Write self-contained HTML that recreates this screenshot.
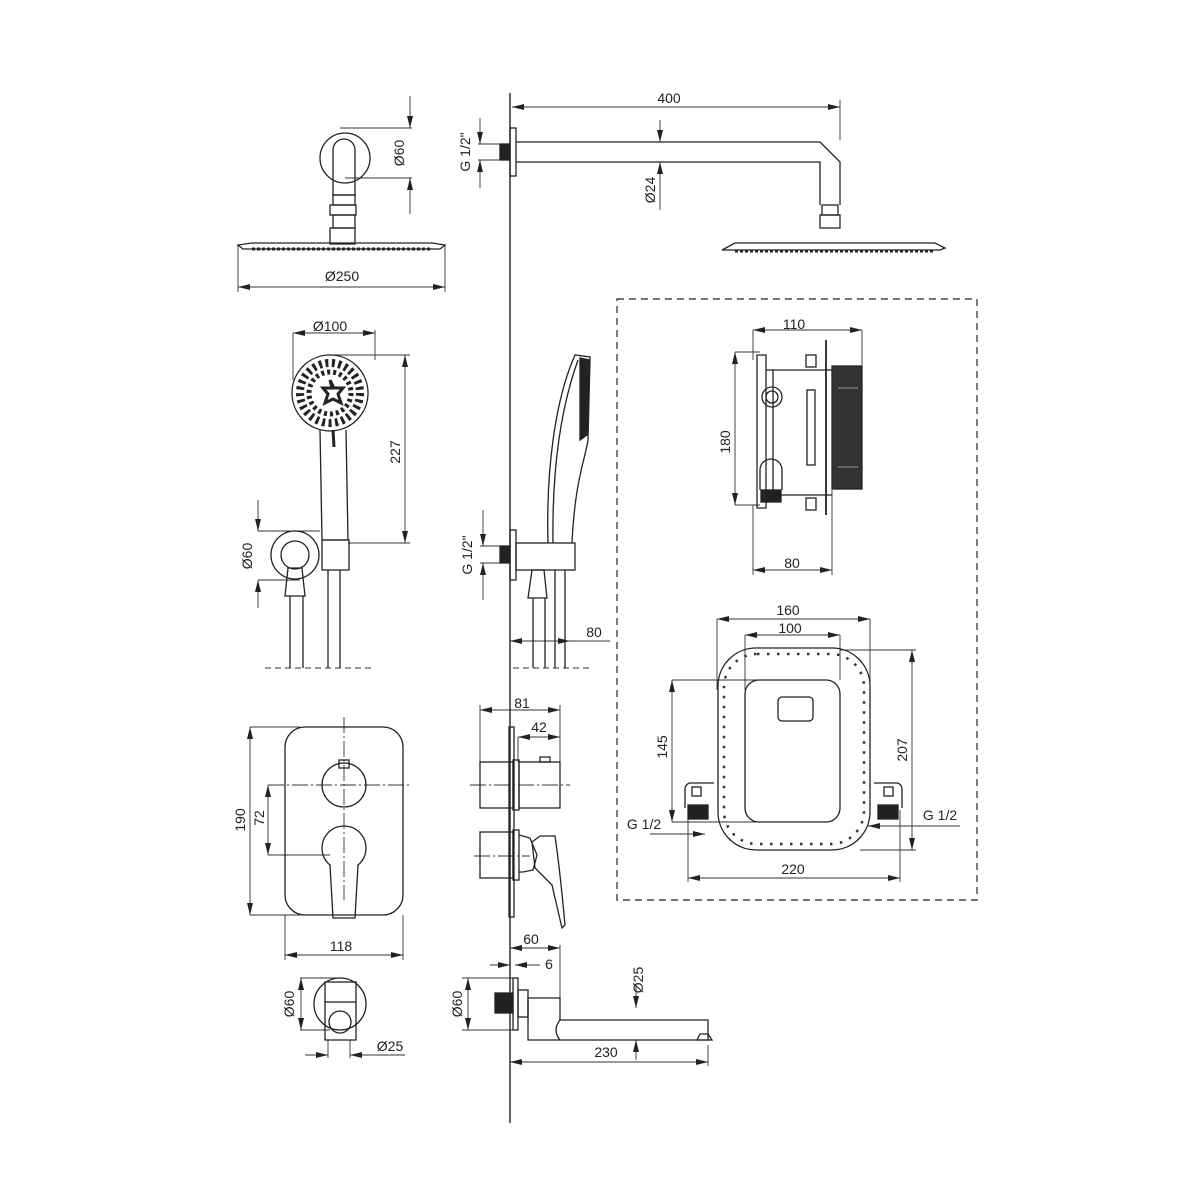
<!DOCTYPE html>
<html><head><meta charset="utf-8"><style>html,body{margin:0;padding:0;background:#fff}svg{display:block}</style></head><body>
<svg width="1200" height="1200" viewBox="0 0 1200 1200" xmlns="http://www.w3.org/2000/svg" font-family="Liberation Sans, sans-serif" font-size="15" fill="none" stroke="#222" stroke-width="1.3">
<defs>
<marker id="a" viewBox="0 0 12 6" refX="12" refY="3" markerWidth="12" markerHeight="6" orient="auto-start-reverse" markerUnits="userSpaceOnUse"><path d="M0,0 L12,3 L0,6z" fill="#222" stroke="none"/></marker>
</defs>
<g id="dims" stroke-width="0.9" stroke="#333">
<!-- top left -->
<line x1="238" y1="287" x2="445" y2="287" marker-start="url(#a)" marker-end="url(#a)"/>
<line x1="238" y1="245" x2="238" y2="292"/><line x1="445" y1="245" x2="445" y2="292"/>
<line x1="410" y1="96" x2="410" y2="128" marker-end="url(#a)"/><line x1="410" y1="178" x2="410" y2="214" marker-start="url(#a)"/>
<line x1="340" y1="128" x2="412" y2="128"/><line x1="345" y1="178" x2="412" y2="178"/>
<!-- top arm -->
<line x1="512" y1="107" x2="840" y2="107" marker-start="url(#a)" marker-end="url(#a)"/>
<line x1="840" y1="100" x2="840" y2="140"/>
<line x1="660" y1="120" x2="660" y2="142" marker-end="url(#a)"/><line x1="660" y1="162" x2="660" y2="210" marker-start="url(#a)"/>
<line x1="480" y1="118" x2="480" y2="144" marker-end="url(#a)"/><line x1="480" y1="160" x2="480" y2="188" marker-start="url(#a)"/>
<line x1="478" y1="144" x2="500" y2="144"/><line x1="478" y1="160" x2="500" y2="160"/>
<!-- hand shower front -->
<line x1="293" y1="333" x2="375" y2="333" marker-start="url(#a)" marker-end="url(#a)"/>
<line x1="293" y1="333" x2="293" y2="380"/><line x1="375" y1="330" x2="375" y2="360"/>
<line x1="405" y1="355" x2="405" y2="543" marker-start="url(#a)" marker-end="url(#a)"/>
<line x1="330" y1="355" x2="410" y2="355"/><line x1="348" y1="543" x2="410" y2="543"/>
<line x1="258" y1="500" x2="258" y2="531" marker-end="url(#a)"/><line x1="258" y1="580" x2="258" y2="608" marker-start="url(#a)"/>
<line x1="258" y1="531" x2="320" y2="531"/><line x1="258" y1="580" x2="300" y2="580"/>
<line x1="265" y1="668" x2="372" y2="668" stroke-dasharray="6,4"/>
<!-- hand shower side -->
<line x1="483" y1="510" x2="483" y2="546" marker-end="url(#a)"/><line x1="483" y1="563" x2="483" y2="600" marker-start="url(#a)"/>
<line x1="480" y1="546" x2="500" y2="546"/><line x1="480" y1="563" x2="500" y2="563"/>
<line x1="510" y1="641" x2="570" y2="641" marker-start="url(#a)" marker-end="url(#a)"/><line x1="570" y1="641" x2="610" y2="641"/>
<line x1="513" y1="668" x2="590" y2="668" stroke-dasharray="6,4"/>
<!-- mixer front -->
<line x1="250" y1="727" x2="250" y2="915" marker-start="url(#a)" marker-end="url(#a)"/>
<line x1="250" y1="727" x2="300" y2="727"/><line x1="250" y1="915" x2="300" y2="915"/>
<line x1="268" y1="785" x2="268" y2="855" marker-start="url(#a)" marker-end="url(#a)"/>
<line x1="268" y1="785" x2="410" y2="785" stroke-dasharray="16,3,2,3"/><line x1="268" y1="855" x2="330" y2="855"/>
<line x1="344" y1="717" x2="344" y2="900" stroke-dasharray="16,3,2,3"/>
<line x1="285" y1="955" x2="403" y2="955" marker-start="url(#a)" marker-end="url(#a)"/>
<line x1="285" y1="915" x2="285" y2="960"/><line x1="403" y1="915" x2="403" y2="960"/>
<!-- mixer side -->
<line x1="480" y1="710" x2="560" y2="710" marker-start="url(#a)" marker-end="url(#a)"/>
<line x1="480" y1="705" x2="480" y2="762"/><line x1="560" y1="705" x2="560" y2="762"/>
<line x1="518" y1="737" x2="560" y2="737" marker-start="url(#a)" marker-end="url(#a)"/><line x1="518" y1="737" x2="518" y2="762"/>
<line x1="470" y1="785" x2="570" y2="785" stroke-dasharray="16,3,2,3"/>
<line x1="474" y1="856" x2="530" y2="856" stroke-dasharray="16,3,2,3"/>
<!-- spout -->
<line x1="510" y1="948" x2="560" y2="948" marker-start="url(#a)" marker-end="url(#a)"/><line x1="560" y1="945" x2="560" y2="1008"/>
<line x1="490" y1="965" x2="510" y2="965" marker-end="url(#a)"/><line x1="540" y1="965" x2="515" y2="965" marker-end="url(#a)"/>
<line x1="468" y1="978" x2="468" y2="1030" marker-start="url(#a)" marker-end="url(#a)"/>
<line x1="462" y1="978" x2="513" y2="978"/><line x1="462" y1="1030" x2="513" y2="1030"/>
<line x1="636" y1="985" x2="636" y2="1008" marker-end="url(#a)"/><line x1="636" y1="1040" x2="636" y2="1060" marker-start="url(#a)"/>
<line x1="510" y1="1062" x2="708" y2="1062" marker-start="url(#a)" marker-end="url(#a)"/><line x1="708" y1="1045" x2="708" y2="1066"/>
<line x1="300" y1="978" x2="340" y2="978"/><line x1="300" y1="1030" x2="330" y2="1030"/>
<line x1="301" y1="978" x2="301" y2="1030" marker-start="url(#a)" marker-end="url(#a)"/>
<line x1="305" y1="1055" x2="328" y2="1055" marker-end="url(#a)"/><line x1="405" y1="1055" x2="350" y2="1055" marker-end="url(#a)"/>
<line x1="328" y1="1040" x2="328" y2="1058"/><line x1="350" y1="1040" x2="350" y2="1058"/>
<!-- box top -->
<line x1="753" y1="330" x2="862" y2="330" marker-start="url(#a)" marker-end="url(#a)"/>
<line x1="753" y1="330" x2="753" y2="360"/><line x1="862" y1="330" x2="862" y2="365"/>
<line x1="735" y1="352" x2="735" y2="505" marker-start="url(#a)" marker-end="url(#a)"/>
<line x1="735" y1="352" x2="760" y2="352"/><line x1="735" y1="505" x2="760" y2="505"/>
<line x1="753" y1="570" x2="832" y2="570" marker-start="url(#a)" marker-end="url(#a)"/>
<line x1="753" y1="505" x2="753" y2="575"/><line x1="832" y1="490" x2="832" y2="575"/>
<!-- box bottom -->
<line x1="717" y1="619" x2="870" y2="619" marker-start="url(#a)" marker-end="url(#a)"/>
<line x1="717" y1="619" x2="717" y2="690"/><line x1="870" y1="619" x2="870" y2="690"/>
<line x1="745" y1="635" x2="840" y2="635" marker-start="url(#a)" marker-end="url(#a)"/>
<line x1="745" y1="635" x2="745" y2="690"/><line x1="840" y1="635" x2="840" y2="680"/>
<line x1="912" y1="650" x2="912" y2="850" marker-start="url(#a)" marker-end="url(#a)"/>
<line x1="840" y1="650" x2="916" y2="650"/><line x1="860" y1="850" x2="916" y2="850"/>
<line x1="672" y1="680" x2="672" y2="822" marker-start="url(#a)" marker-end="url(#a)"/>
<line x1="672" y1="680" x2="760" y2="680"/><line x1="672" y1="822" x2="760" y2="822"/>
<line x1="688" y1="878" x2="900" y2="878" marker-start="url(#a)" marker-end="url(#a)"/>
<line x1="688" y1="810" x2="688" y2="882"/><line x1="900" y1="810" x2="900" y2="882"/>
<line x1="650" y1="834" x2="705" y2="834" marker-end="url(#a)"/>
<line x1="960" y1="826" x2="868" y2="826" marker-end="url(#a)"/>
</g>
<!-- dashed box -->
<rect x="617" y="299" width="360" height="601" stroke-dasharray="7,5" stroke-width="1.2"/>
<!-- wall line -->
<line x1="510" y1="93" x2="510" y2="1123" stroke-width="1.4"/>
<!-- top left shower -->
<circle cx="345" cy="158" r="25"/>
<path d="M333,195 V150 a11,11 0 0 1 22,0 V195z"/>
<rect x="333" y="195" width="22" height="10"/><rect x="330" y="205" width="26" height="10"/><rect x="333" y="215" width="22" height="13"/>
<path d="M330,228 h25 v16 h-25z"/>
<path d="M238,245 L252,243 H432 L445,245 L440,249 H243z"/>
<path d="M252,249 h180" stroke-dasharray="3,2" stroke-width="3"/>
<!-- top right arm -->
<rect x="510" y="128" width="6" height="48"/><rect x="500" y="144" width="10" height="16" fill="#222"/>
<path d="M516,142 H820 L840,162 V205 M516,162 H820 V205"/>
<rect x="822" y="205" width="16" height="10"/><rect x="820" y="215" width="20" height="13"/>
<path d="M722,250 L735,243 H935 L945,248 L940,250z"/>
<path d="M735,251 h200" stroke-dasharray="3,2" stroke-width="3"/>
<!-- hand shower front -->
<circle cx="330" cy="393" r="38"/>
<path d="M320,430 L322,540 H348 L346,430"/>
<g fill="#222" stroke="none">
<circle cx="330" cy="393" r="30" fill="none" stroke="#222" stroke-width="8" stroke-dasharray="3,3.5"/>
<circle cx="330" cy="393" r="21" fill="none" stroke="#222" stroke-width="5" stroke-dasharray="3,3"/>
</g>
<path d="M330,380 l4,8 l9,0 l-5,6 l3,9 l-8,-4 l-8,4 l3,-9 l-5,-6 l9,0z" stroke-width="3"/>
<line x1="333" y1="430" x2="334" y2="447" stroke-width="3"/>
<circle cx="295" cy="555" r="24"/><circle cx="295" cy="555" r="14"/>
<path d="M322,540 h27 v30 h-27z"/>
<path d="M288,568 L285,596 H305 L302,568z"/>
<path d="M290,596 V668 M303,596 V668 M328,570 V668 M340,570 V668"/>
<!-- hand shower side -->
<rect x="510" y="530" width="6" height="50"/><rect x="500" y="546" width="10" height="17" fill="#222"/>
<rect x="516" y="543" width="59" height="27"/>
<path d="M548,543 C546,470 555,400 575,355 L590,357 L588,440 C585,460 575,480 572,543" />
<path d="M553,543 C552,470 560,410 578,360"/>
<path d="M580,358 L590,360 L587,435 L580,440z" fill="#222"/>
<path d="M532,570 L528,598 H547 L544,570z"/>
<path d="M533,598 V668 M545,598 V668 M555,570 V668 M565,570 V668"/>
<!-- box top body -->
<path d="M757,355 H766 V508 H757z"/>
<path d="M766,370 H832 M766,495 H832 M773,370 V495"/>
<rect x="806" y="355" width="10" height="12"/><rect x="806" y="498" width="10" height="12"/>
<rect x="807" y="390" width="8" height="75"/>
<line x1="826" y1="340" x2="826" y2="515" stroke-width="1.8"/>
<rect x="832" y="366" width="30" height="123" fill="#333"/>
<g stroke="#fff" stroke-width="0.6"><line x1="838" y1="388" x2="858" y2="388"/><line x1="838" y1="467" x2="858" y2="467"/></g>
<circle cx="772" cy="397" r="10"/><circle cx="772" cy="397" r="6"/>
<path d="M760,490 V470 a10,10 0 0 1 22,0 V490"/>
<rect x="761" y="490" width="20" height="12" fill="#222"/>
<!-- box bottom -->
<rect x="718" y="648" width="152" height="202" rx="38"/>
<rect x="745" y="680" width="95" height="142" rx="14"/>
<rect x="778" y="697" width="35" height="24" rx="4"/>
<g fill="none" stroke="#333" stroke-width="0.8">
<rect x="724" y="654" width="140" height="190" rx="33" stroke-dasharray="2.5,7.5" stroke-width="2.5"/>
</g>
<path d="M714,783 H690 a6,6 0 0 0 -5,6 V808 M874,783 H897 a6,6 0 0 1 5,6 V808"/>
<rect x="692" y="787" width="9" height="9"/><rect x="884" y="787" width="9" height="9"/>
<rect x="688" y="805" width="20" height="14" fill="#222"/><rect x="878" y="805" width="20" height="14" fill="#222"/>
<!-- mixer front -->
<rect x="285" y="727" width="118" height="188" rx="20"/>
<circle cx="344" cy="785" r="22"/><rect x="339" y="760" width="10" height="8"/>
<path d="M330,865 a22,22 0 1 1 28,0 L355,918 H333z"/>
<!-- mixer side -->
<rect x="509" y="727" width="5" height="190"/>
<rect x="480" y="762" width="33" height="46"/><rect x="513" y="760" width="6" height="50"/><rect x="519" y="762" width="41" height="46"/>
<rect x="540" y="757" width="10" height="5"/>
<rect x="480" y="832" width="33" height="46"/><rect x="513" y="830" width="6" height="50"/>
<path d="M519,835 L530,838 L537,855 L533,870 L523,872 L519,872"/>
<path d="M532,842 L540,836 L555,836 Q560,870 565,925 L562,928 L552,885 L535,868z"/>
<!-- spout -->
<rect x="513" y="978" width="5" height="52"/><rect x="495" y="993" width="18" height="20" fill="#222"/>
<rect x="518" y="990" width="10" height="27"/>
<path d="M528,998 H560 V1020 H708 V1040 H528z"/>
<path d="M560,1020 Q552,1030 560,1040"/>
<path d="M697,1040 L700,1034 H708 L712,1040z"/>
<!-- bottom left small -->
<circle cx="340" cy="1004" r="26"/>
<rect x="325" y="982" width="31" height="20"/>
<path d="M325,1002 V1040 H356 V1002"/>
<circle cx="340" cy="1022" r="11"/>
<!-- text -->
<g fill="#222" stroke="none" font-size="14">
<text x="342" y="281" text-anchor="middle">Ø250</text>
<text x="669" y="103" text-anchor="middle">400</text>
<text x="330" y="331" text-anchor="middle">Ø100</text>
<text x="794" y="329" text-anchor="middle">110</text>
<text x="792" y="568" text-anchor="middle">80</text>
<text x="594" y="637" text-anchor="middle">80</text>
<text x="788" y="615" text-anchor="middle">160</text>
<text x="790" y="633" text-anchor="middle">100</text>
<text x="522" y="708" text-anchor="middle">81</text>
<text x="539" y="732" text-anchor="middle">42</text>
<text x="644" y="829" text-anchor="middle">G 1/2</text>
<text x="940" y="820" text-anchor="middle">G 1/2</text>
<text x="793" y="874" text-anchor="middle">220</text>
<text x="341" y="951" text-anchor="middle">118</text>
<text x="531" y="944" text-anchor="middle">60</text>
<text x="549" y="969" text-anchor="middle">6</text>
<text x="606" y="1057" text-anchor="middle">230</text>
<text x="390" y="1051" text-anchor="middle">Ø25</text>
<text transform="translate(404,153) rotate(-90)" text-anchor="middle">Ø60</text>
<text transform="translate(470,152) rotate(-90)" text-anchor="middle">G 1/2"</text>
<text transform="translate(655,190) rotate(-90)" text-anchor="middle">Ø24</text>
<text transform="translate(400,452) rotate(-90)" text-anchor="middle">227</text>
<text transform="translate(252,556) rotate(-90)" text-anchor="middle">Ø60</text>
<text transform="translate(472,555) rotate(-90)" text-anchor="middle">G 1/2"</text>
<text transform="translate(730,442) rotate(-90)" text-anchor="middle">180</text>
<text transform="translate(667,747) rotate(-90)" text-anchor="middle">145</text>
<text transform="translate(907,750) rotate(-90)" text-anchor="middle">207</text>
<text transform="translate(245,820) rotate(-90)" text-anchor="middle">190</text>
<text transform="translate(264,818) rotate(-90)" text-anchor="middle">72</text>
<text transform="translate(462,1004) rotate(-90)" text-anchor="middle">Ø60</text>
<text transform="translate(643,980) rotate(-90)" text-anchor="middle">Ø25</text>
<text transform="translate(294,1004) rotate(-90)" text-anchor="middle">Ø60</text>
</g>
</svg>
</body></html>
